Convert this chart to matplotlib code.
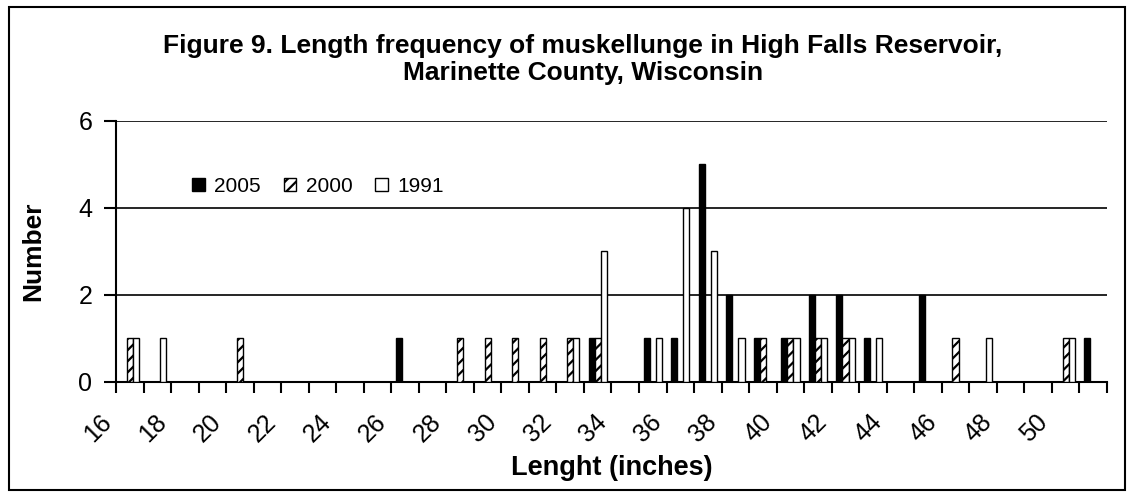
import numpy as np
import matplotlib.pyplot as plt
from matplotlib.patches import Rectangle

plt.rcParams['font.family'] = ['Liberation Sans', 'DejaVu Sans']
plt.rcParams['hatch.linewidth'] = 1.6

lengths = [16, 17, 18, 19, 20, 21, 22, 23, 24, 25, 26, 27, 28, 29, 30, 31, 32, 33,
           34, 35, 36, 37, 38, 39, 40, 41, 42, 43, 44, 45, 46, 47, 48, 49, 50, 51]
n2005 = [0, 0, 0, 0, 0, 0, 0, 0, 0, 0, 1, 0, 0, 0, 0, 0, 0, 1,
         0, 1, 1, 5, 2, 1, 1, 2, 2, 1, 0, 2, 0, 0, 0, 0, 0, 1]
n2000 = [1, 0, 0, 0, 1, 0, 0, 0, 0, 0, 0, 0, 1, 1, 1, 1, 1, 1,
         0, 0, 0, 0, 0, 1, 1, 1, 1, 0, 0, 0, 1, 0, 0, 0, 1, 0]
n1991 = [1, 1, 0, 0, 0, 0, 0, 0, 0, 0, 0, 0, 0, 0, 0, 0, 1, 3,
         0, 1, 4, 3, 1, 0, 1, 1, 1, 1, 0, 0, 0, 1, 0, 0, 1, 0]

fig = plt.figure(figsize=(11.33, 4.93), dpi=100)
ax = fig.add_axes([0.1024, 0.2252, 0.8746, 0.53])

x = np.arange(len(lengths)) + 0.5
w = 1 / 4.5
b1 = ax.bar(x - w, n2005, w, color='black', edgecolor='black', lw=1, label='2005', zorder=3)
b2 = ax.bar(x, n2000, w, color='white', edgecolor='black', lw=1, hatch='///', label='2000', zorder=3)
b3 = ax.bar(x + w, n1991, w, color='white', edgecolor='black', lw=1, label='1991', zorder=3)

ax.set_xlim(0, len(lengths))
ax.set_ylim(0, 6)
ax.set_yticks([0, 2, 4, 6])
ax.yaxis.grid(True, color='black', lw=1.2)
ax.set_axisbelow(True)
for s in ['top', 'right']:
    ax.spines[s].set_visible(False)
for s in ['left', 'bottom']:
    ax.spines[s].set_linewidth(1.5)

# ticks sit between categories, labels on every other one
ax.set_xticks(np.arange(len(lengths) + 1))
labels = [str(v) if i % 2 == 0 else '' for i, v in enumerate(lengths)] + ['']
ax.set_xticklabels(labels, rotation=45, ha='right')
ax.tick_params(axis='x', length=8, width=1.5, labelsize=18, pad=12)
ax.tick_params(axis='y', length=9, width=1.5, labelsize=18, pad=8)

ax.set_ylabel('Number', fontsize=19, fontweight='bold', labelpad=24)
ax.set_xlabel('Lenght (inches)', fontsize=19.5, fontweight='bold', labelpad=6)

ax.legend(handles=[b1, b2, b3], ncol=3, frameon=False, fontsize=15,
          loc='center left', bbox_to_anchor=(0.058, 0.75),
          handlelength=0.6, handleheight=0.6, handletextpad=0.45, columnspacing=1.1)

fig.text(0.5146, 0.907, 'Figure 9. Length frequency of muskellunge in High Falls Reservoir,',
         ha='center', va='center', fontsize=19, fontweight='bold')
fig.text(0.5146, 0.852, 'Marinette County, Wisconsin',
         ha='center', va='center', fontsize=19, fontweight='bold')

fig.patches.append(Rectangle((0.008, 0.006), 0.985, 0.98, transform=fig.transFigure,
                             fill=False, edgecolor='black', lw=1.5))

fig.savefig('out.png', dpi=100)
